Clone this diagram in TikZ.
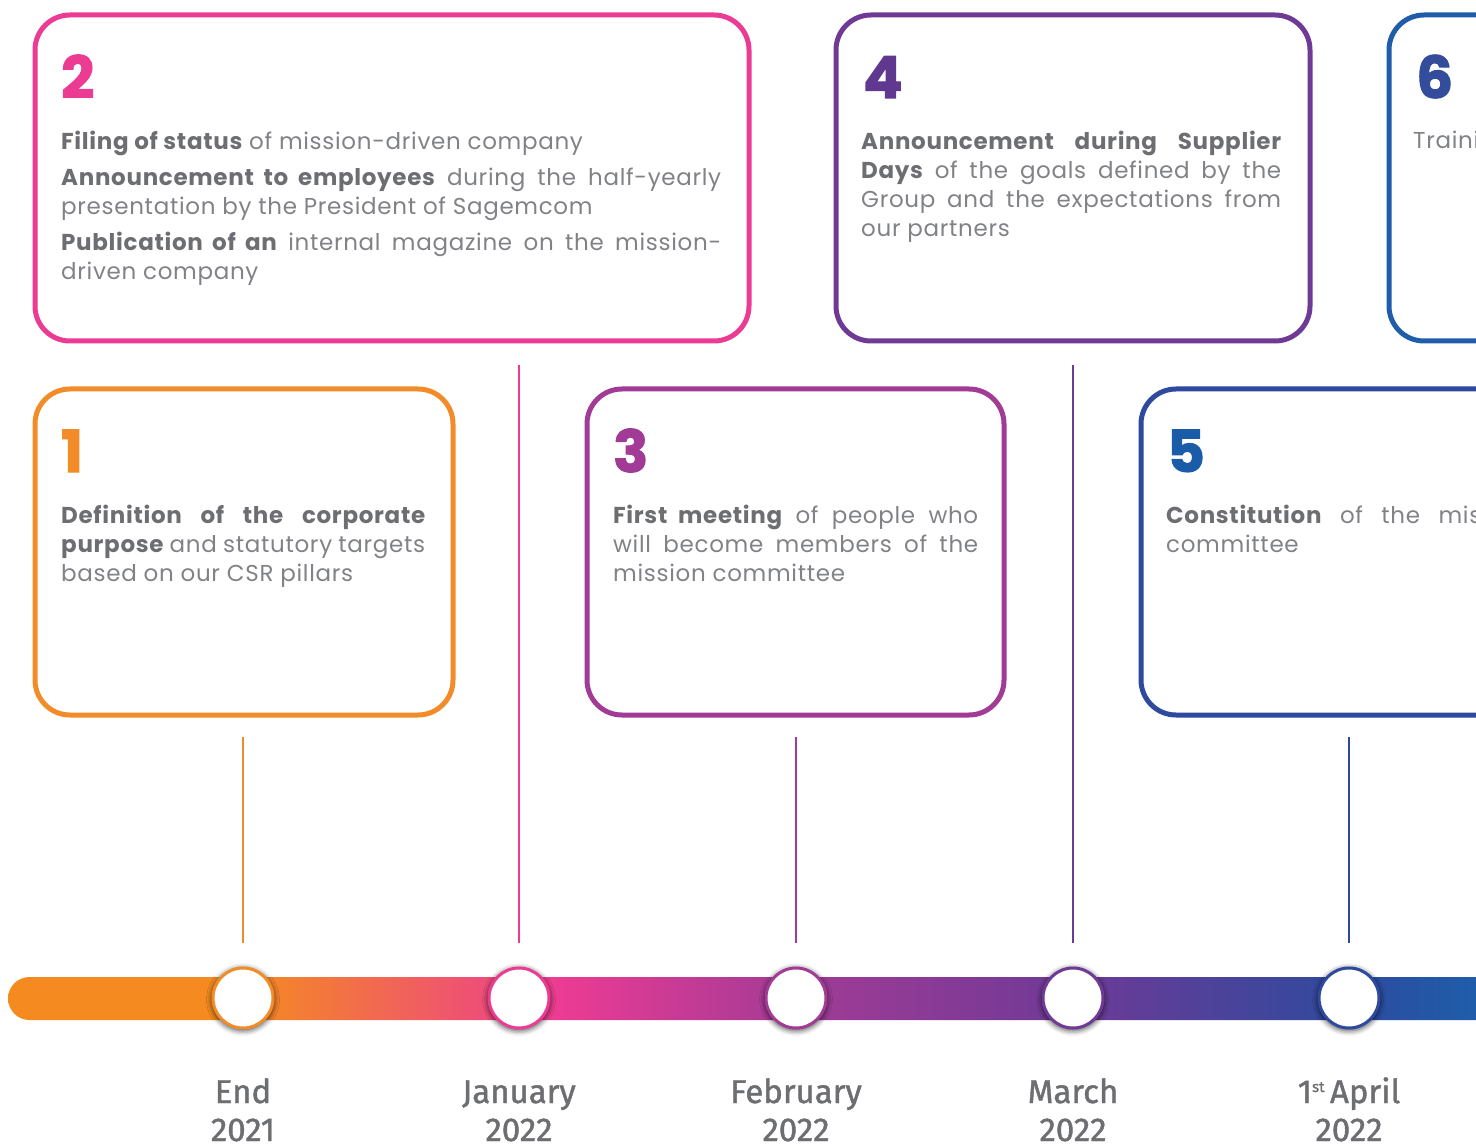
\documentclass[tikz,border=0pt]{standalone}
\usepackage{fontspec}
\setmainfont{Poppins}[LetterSpace=3]
\newfontfamily\numfont{Poppins}[BoldFeatures={FakeBold=2}]
\newfontfamily\datefont{Fira Sans}[FakeBold=1.3]
\usetikzlibrary{shadows.blur}
\definecolor{cOr}{HTML}{F28C28}
\definecolor{cBarOr}{HTML}{F58B20}
\definecolor{cPk}{HTML}{EC3B93}
\definecolor{cMg}{HTML}{A23B96}
\definecolor{cPu}{HTML}{6E3A96}
\definecolor{cIn}{HTML}{2E4A9E}
\definecolor{cBl}{HTML}{1F5DAA}
\definecolor{cNumPu}{HTML}{61388F}
\definecolor{cNumIn}{HTML}{344C9C}
\definecolor{cNumBl}{HTML}{1B5CA8}
\definecolor{cTxt}{HTML}{808285}
\definecolor{cBold}{HTML}{6D6E71}
\definecolor{cDate}{HTML}{6D6E71}
\pgfdeclarehorizontalshading{tlshade}{100bp}{color(0bp)=(cBarOr); color(33bp)=(cBarOr); color(43.8bp)=(cPk); color(51.84bp)=(cMg); color(61.27bp)=(cPu); color(70.67bp)=(cIn); color(75bp)=(cBl); color(100bp)=(cBl)}
\newcommand\strongtxt[1]{{\color{cBold}\bfseries #1}}
\tikzset{
  card/.style={draw, line width=5pt, rounded corners=35pt, anchor=north west, minimum height=326pt, inner sep=0pt, outer sep=0pt},
  num/.style={anchor=base west, inner sep=0pt, font=\numfont\fontsize{58}{58}\selectfont\bfseries},
  body/.style={anchor=north west, inner sep=0pt, text width=#1, align=justify, text=cTxt, font=\fontsize{23}{29}\selectfont},
  dot/.style={circle, minimum size=60pt, inner sep=0pt, outer sep=0pt, fill=white, line width=3pt,
    blur shadow={shadow xshift=0pt, shadow yshift=-1.5pt, shadow blur radius=5pt, shadow opacity=70, shadow scale=1.04}},
  date/.style={anchor=base, inner sep=0pt, text=cDate, font=\datefont\fontsize{33}{38}\selectfont},
  stem/.style={line width=2.5pt}
}
\begin{document}
\begin{tikzpicture}[x=1pt,y=-1pt]
\useasboundingbox (0,0) rectangle (1476,1147);
\clip (0,0) rectangle (1476,1147);

% timeline bar
\path[shading=tlshade] (1476,977) -- (29.5,977) arc[start angle=-90, end angle=-270, radius=21.5] -- (1476,1020) -- cycle;

% cards
\node[card, draw=cPk, minimum width=714pt] (b2) at (35,15) {};
\node[card, draw=cPu, minimum width=474pt] (b4) at (836,15) {};
\node[card, draw=cBl, minimum width=474pt] (b6) at (1389,15) {};
\node[card, draw=cOr, minimum width=418pt] (b1) at (35,389) {};
\node[card, draw=cMg, minimum width=417pt] (b3) at (587,389) {};
\node[card, draw=cIn, minimum width=418pt] (b5) at (1141,389) {};

% numbers
\node[num, text=cPk] (n2) at (61,98) {2};
\node[num, text=cNumPu] (n4) at (863,98) {4};
\node[num, text=cNumIn] (n6) at (1416,98) {6};
\node[num, text=cOr] (n1) at (61,472) {1};
\node[num, text=cMg] (n3) at (613,472) {3};
\node[num, text=cNumBl] (n5) at (1167,472) {5};

% texts
\node[body=660pt] (t2) at (61,131) {\strongtxt{Filing of status} of mission-driven company\par\vspace{7pt}
\strongtxt{Announcement to employees} during the half-yearly\linebreak presentation by the President of Sagemcom\par\vspace{7pt}
\strongtxt{Publication of an} internal magazine on the mission-\linebreak driven company};
\node[body=420pt] (t4) at (861,131) {\strongtxt{Announcement during Supplier}\linebreak \strongtxt{Days} of the goals defined by the\linebreak Group and the expectations from\linebreak our partners};
\node[body=300pt] (t6) at (1413,131) {Training};
\node[body=364pt] (t1) at (61,505) {\strongtxt{Definition of the corporate}\linebreak \strongtxt{purpose} and statutory targets\linebreak based on our CSR pillars};
\node[body=365pt] (t3) at (613,505) {\strongtxt{First meeting} of people who\linebreak will become members of the\linebreak mission committee};
\node[body=365pt] (t5) at (1166,505) {\strongtxt{Constitution} of the mission\linebreak committee};

% circles
\node[dot, draw=cOr] (c1) at (243,998) {};
\node[dot, draw=cPk] (c2) at (519,998) {};
\node[dot, draw=cMg] (c3) at (796,998) {};
\node[dot, draw=cPu] (c4) at (1073,998) {};
\node[dot, draw=cIn] (c5) at (1349,998) {};

% stems
\draw[stem, cOr, shorten <=22pt, shorten >=25pt] (c1.north |- b1.south) -- (c1.north);
\draw[stem, cPk, shorten <=24pt, shorten >=25pt] (c2.north |- b2.south) -- (c2.north);
\draw[stem, cMg, shorten <=22pt, shorten >=25pt] (c3.north |- b3.south) -- (c3.north);
\draw[stem, cPu, shorten <=24pt, shorten >=25pt] (c4.north |- b4.south) -- (c4.north);
\draw[stem, cIn, shorten <=22pt, shorten >=25pt] (c5.north |- b5.south) -- (c5.north);

% dates
\node[date] (d1a) at (243,1103) {End};
\node[date] (d1b) at (243,1141) {2021};
\node[date] (d2a) at (519,1103) {January};
\node[date] (d2b) at (519,1141) {2022};
\node[date] (d3a) at (796,1103) {February};
\node[date] (d3b) at (796,1141) {2022};
\node[date] (d4a) at (1073,1103) {March};
\node[date] (d4b) at (1073,1141) {2022};
\node[date] (d5a) at (1349,1103) {1\raisebox{11pt}{\fontsize{15}{15}\selectfont st}\,April};
\node[date] (d5b) at (1349,1141) {2022};
\end{tikzpicture}
\end{document}
